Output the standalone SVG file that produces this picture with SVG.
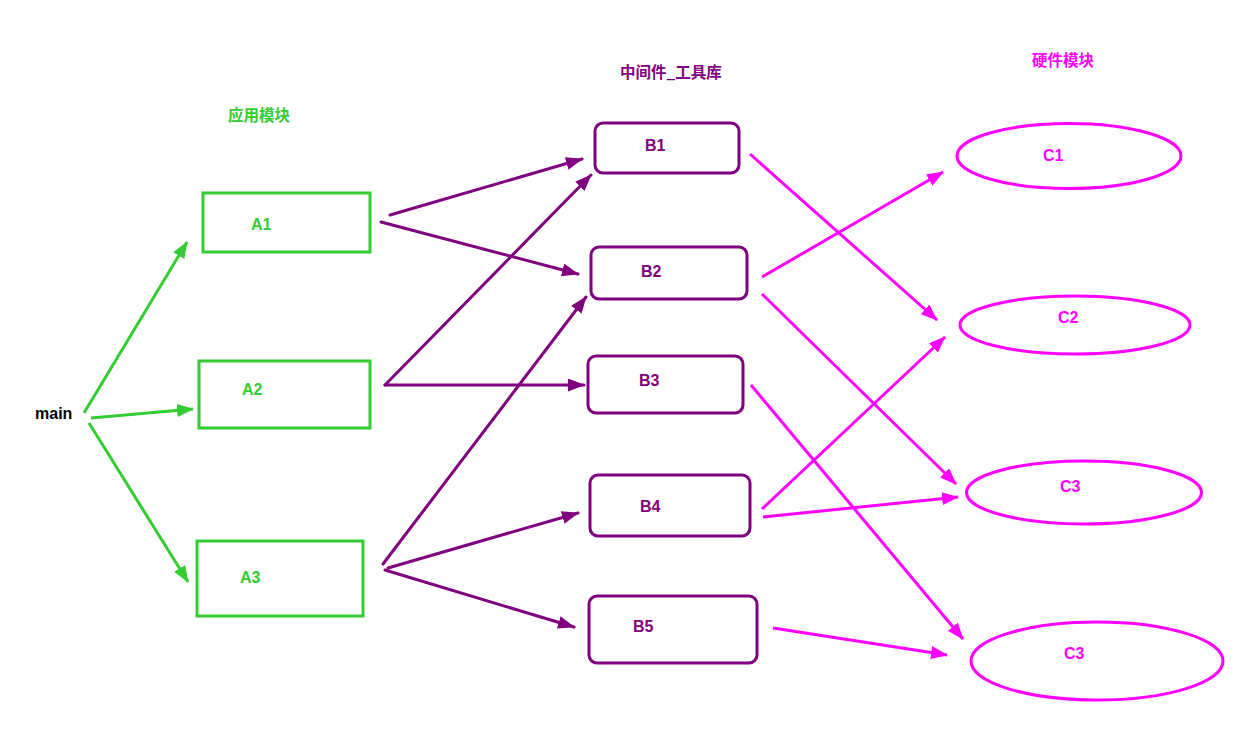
<svg xmlns="http://www.w3.org/2000/svg" width="1258" height="731" viewBox="0 0 1258 731">
<style>
.t{font-family:"Liberation Sans","Noto Sans CJK SC",sans-serif;font-weight:bold;font-size:16px}
.cjk{font-family:"Noto Sans CJK SC","Liberation Sans",sans-serif;font-weight:bold;font-size:15.5px}
.g{fill:#33cc33}.p{fill:#800080}.m{fill:#ff00ff}
.ga{stroke:#33cc33;fill:none;stroke-width:3}
.pa{stroke:#800080;fill:none;stroke-width:3}
.ma{stroke:#ff00ff;fill:none;stroke-width:3}
.gl{stroke:#33cc33;stroke-width:3;marker-end:url(#ag)}
.pl{stroke:#800080;stroke-width:3;marker-end:url(#ap);fill:none;stroke-linecap:round}
.ml{stroke:#ff00ff;stroke-width:3;marker-end:url(#am)}
</style>
<defs>
<marker id="ag" markerUnits="userSpaceOnUse" markerWidth="17" markerHeight="13" viewBox="0 0 17 13" refX="16" refY="6.5" orient="auto"><path d="M0,0 L17,6.5 L0,13 z" fill="#33cc33"/></marker>
<marker id="ap" markerUnits="userSpaceOnUse" markerWidth="17" markerHeight="13" viewBox="0 0 17 13" refX="16" refY="6.5" orient="auto"><path d="M0,0 L17,6.5 L0,13 z" fill="#800080"/></marker>
<marker id="am" markerUnits="userSpaceOnUse" markerWidth="17" markerHeight="13" viewBox="0 0 17 13" refX="16" refY="6.5" orient="auto"><path d="M0,0 L17,6.5 L0,13 z" fill="#ff00ff"/></marker>
</defs>
<rect width="1258" height="731" fill="#ffffff"/>
<g id="titles">
<text class="cjk g" x="228" y="121">应用模块</text>
<text class="cjk p" x="620" y="78">中间件_工具库</text>
<text class="cjk m" x="1032" y="66">硬件模块</text>
</g>
<g id="main"><text class="t" x="35" y="419" fill="#000">main</text></g>
<g id="A1"><rect class="ga" x="203" y="193" width="167" height="59"/><text class="t g" x="251" y="230">A1</text></g>
<g id="A2"><rect class="ga" x="199" y="361" width="171" height="67"/><text class="t g" x="242" y="395">A2</text></g>
<g id="A3"><rect class="ga" x="197" y="541" width="166" height="75"/><text class="t g" x="240" y="583">A3</text></g>
<g id="B1"><rect class="pa" x="595" y="123" width="144" height="50" rx="8"/><text class="t p" x="645" y="151">B1</text></g>
<g id="B2"><rect class="pa" x="591" y="247" width="156" height="52" rx="8"/><text class="t p" x="641" y="277">B2</text></g>
<g id="B3"><rect class="pa" x="588" y="356" width="155" height="57" rx="8"/><text class="t p" x="639" y="386">B3</text></g>
<g id="B4"><rect class="pa" x="590" y="475" width="160" height="61" rx="8"/><text class="t p" x="640" y="512">B4</text></g>
<g id="B5"><rect class="pa" x="589" y="596" width="168" height="67" rx="8"/><text class="t p" x="633" y="632">B5</text></g>
<g id="C1"><ellipse class="ma" cx="1069" cy="156" rx="112" ry="32.5"/><text class="t m" x="1043" y="161">C1</text></g>
<g id="C2"><ellipse class="ma" cx="1075" cy="325" rx="115" ry="29"/><text class="t m" x="1058" y="323">C2</text></g>
<g id="C3a"><ellipse class="ma" cx="1084" cy="492.5" rx="117.5" ry="31.5"/><text class="t m" x="1060" y="492">C3</text></g>
<g id="C3b"><ellipse class="ma" cx="1097" cy="661" rx="126" ry="39"/><text class="t m" x="1064" y="659">C3</text></g>
<g id="connectors">
<line class="gl" x1="84" y1="413" x2="187" y2="242"/>
<line class="gl" x1="91" y1="418" x2="193" y2="409"/>
<line class="gl" x1="89" y1="423" x2="188" y2="582"/>
<line class="pl" x1="390" y1="215" x2="582" y2="159"/>
<line class="pl" x1="381" y1="222" x2="578" y2="274"/>
<line class="pl" x1="385" y1="385" x2="591" y2="175"/>
<line class="pl" x1="385" y1="385" x2="584" y2="385"/>
<line class="pl" x1="383" y1="564" x2="586" y2="297"/>
<line class="pl" x1="388" y1="568" x2="578" y2="513"/>
<line class="pl" x1="385" y1="570" x2="574" y2="627"/>
<line class="ml" x1="750" y1="154" x2="937" y2="320"/>
<line class="ml" x1="762" y1="277" x2="943" y2="172"/>
<line class="ml" x1="762" y1="294" x2="956" y2="484"/>
<line class="ml" x1="762" y1="509" x2="945" y2="337"/>
<line class="ml" x1="751" y1="385" x2="963" y2="639"/>
<line class="ml" x1="763" y1="517" x2="958" y2="497"/>
<line class="ml" x1="773" y1="628" x2="947" y2="655"/>
</g>
</svg>
